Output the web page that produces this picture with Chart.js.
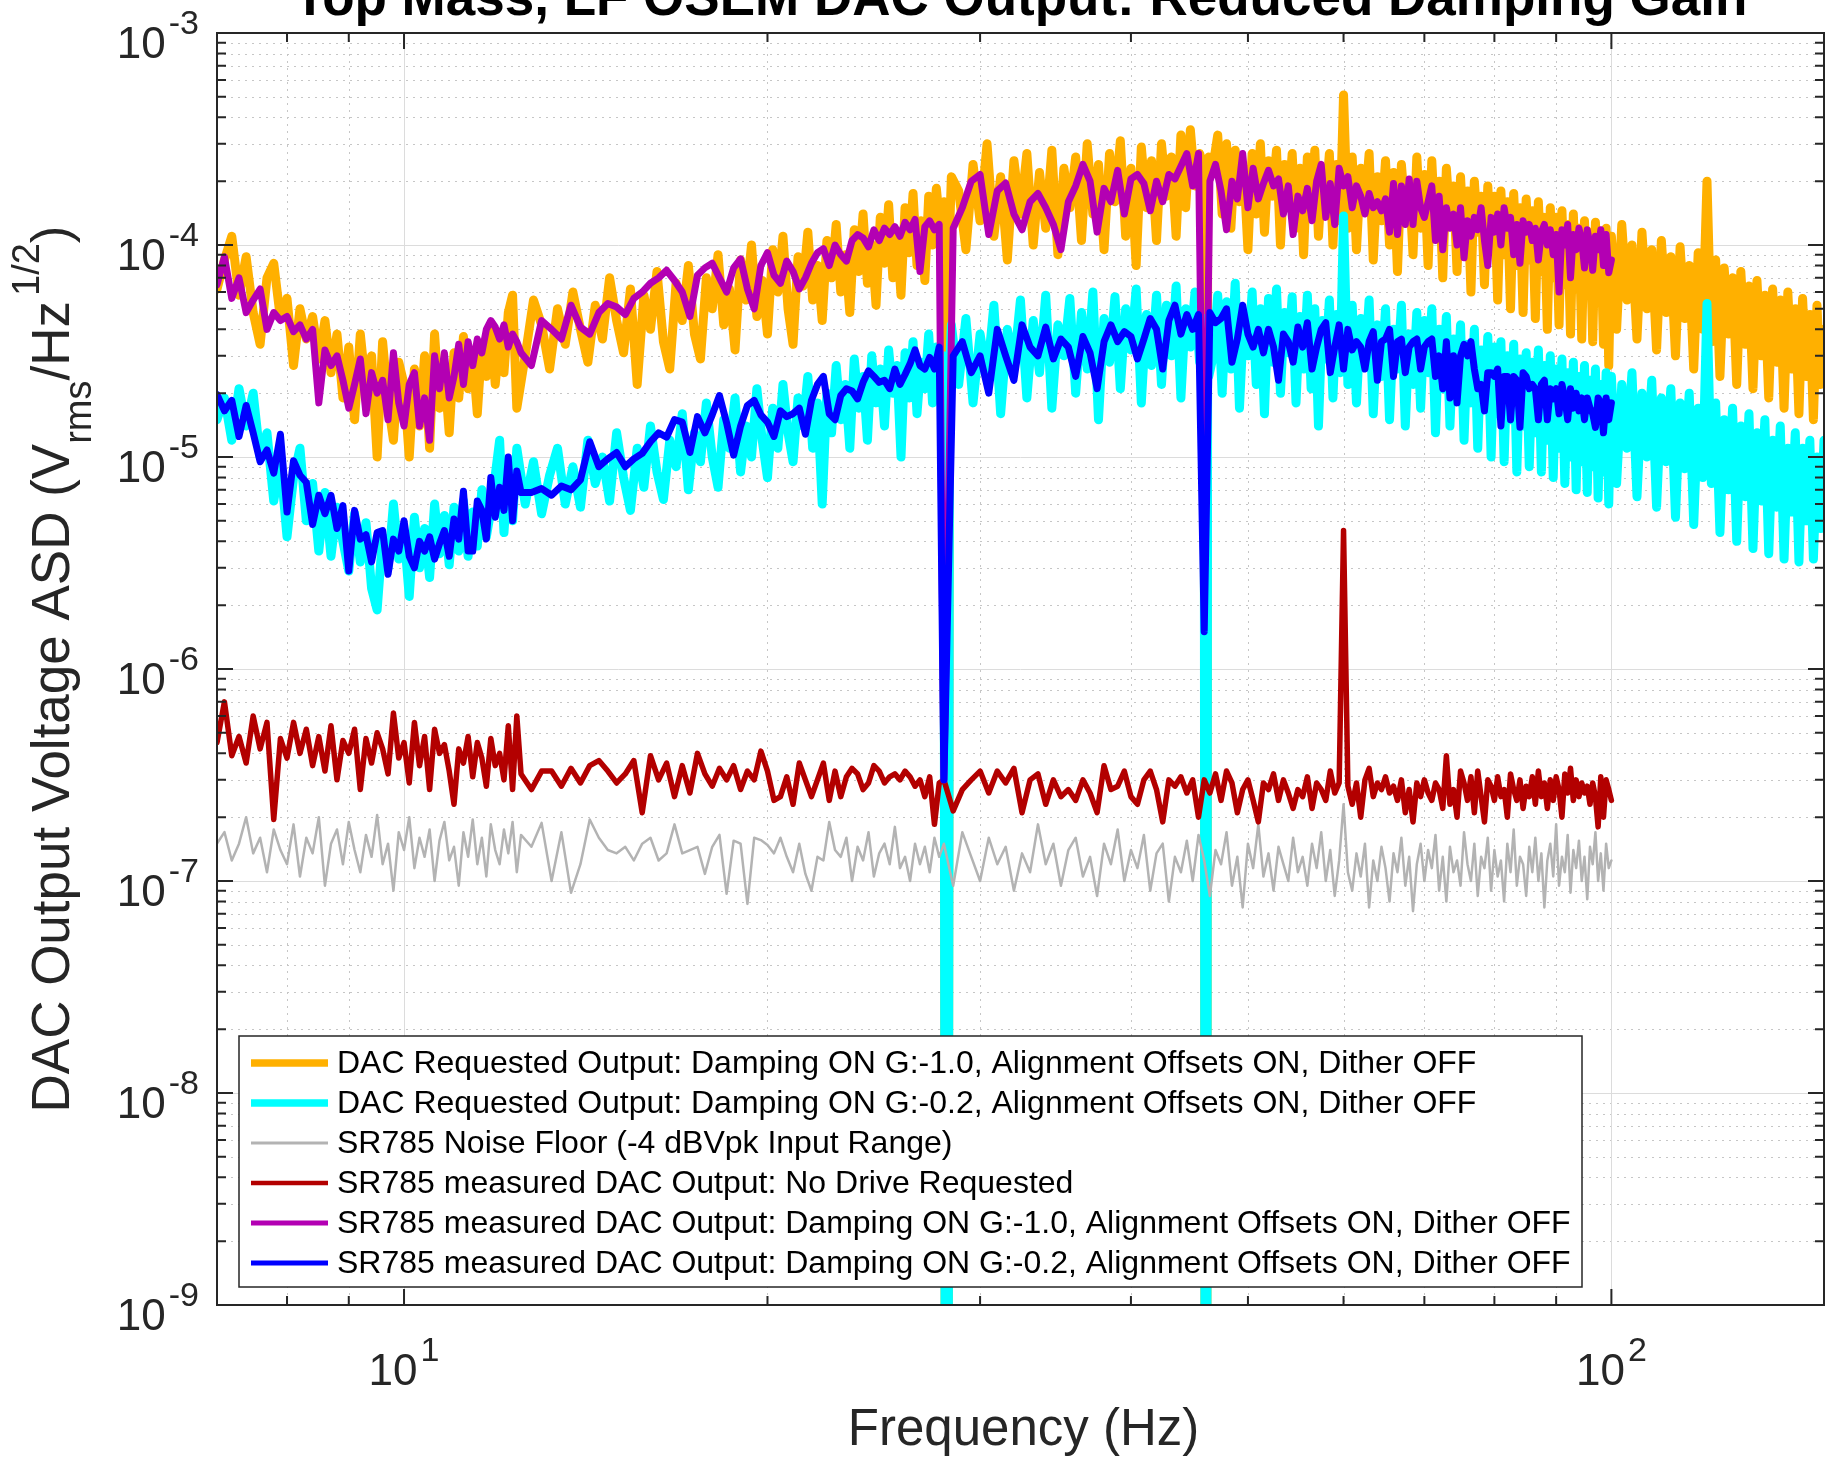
<!DOCTYPE html>
<html>
<head>
<meta charset="utf-8">
<title>Top Mass, LF OSEM DAC Output: Reduced Damping Gain</title>
<script src="https://cdn.jsdelivr.net/npm/chart.js@4.4.1/dist/chart.umd.min.js"></script>
<style>
  html, body { margin: 0; padding: 0; background: #fff; }
  #wrap { width: 1830px; height: 1460px; position: relative; }
</style>
</head>
<body>
<div id="wrap"><canvas id="asd"></canvas></div>
<script>
// DAC output ASD comparison: requested (from front end) vs measured on SR785.
// Values read off the original MATLAB figure; DAC-requested traces on a
// fine grid (dacFreq), SR785 traces on the analyser's span grid (srFreq).

// ── DAC requested output grid (Hz) ─────────────────────────────────────
const dacFreq = [
  7.0, 7.1, 7.2, 7.3, 7.4, 7.5, 7.6, 7.7, 7.8, 7.9,
  8.0, 8.1, 8.2, 8.3, 8.4, 8.5, 8.6, 8.7, 8.8, 8.9,
  9.0, 9.1, 9.2, 9.3, 9.4, 9.5, 9.6, 9.7, 9.8, 9.9,
  10.0, 10.1, 10.2, 10.3, 10.4, 10.5, 10.6, 10.7, 10.8, 10.9,
  11.0, 11.1, 11.2, 11.3, 11.4, 11.5, 11.6, 11.7, 11.8, 11.9,
  12.0, 12.1, 12.2, 12.3, 12.4,
  12.6, 12.8,
  13.0, 13.2, 13.4, 13.6, 13.8, 14.0, 14.2, 14.4, 14.6, 14.8,
  15.0, 15.2, 15.4, 15.6, 15.8, 16.0, 16.2, 16.4, 16.6, 16.8,
  17.0, 17.2, 17.4, 17.6, 17.8, 18.0, 18.2, 18.4, 18.6, 18.8,
  19.0, 19.2, 19.4, 19.6, 19.8, 20.0, 20.2, 20.4, 20.6, 20.8,
  21.0, 21.2, 21.4, 21.6, 21.8, 22.0, 22.2, 22.4, 22.6, 22.8,
  23.0, 23.2, 23.4, 23.6, 23.8, 24.0, 24.2, 24.4, 24.6, 24.8,
  25.0, 25.2, 25.4, 25.6, 25.8, 26.0, 26.2, 26.4, 26.6, 26.8,
  27.0, 27.2, 27.4, 27.6, 27.8,
  28.0, 28.1, 28.2, 28.3, 28.4,
  28.8, 29.2, 29.6, 30.0, 30.4, 30.8, 31.2, 31.6, 32.0, 32.4,
  32.8, 33.2, 33.6, 34.0, 34.4, 34.8, 35.2, 35.6, 36.0, 36.4,
  36.8, 37.2, 37.6, 38.0, 38.4, 38.8, 39.2, 39.6, 40.0, 40.4,
  40.8, 41.2, 41.6, 42.0, 42.4, 42.8, 43.2, 43.6, 44.0, 44.4,
  44.8, 45.2, 45.6, 46.0, 46.1, 46.2, 46.3, 46.4, 46.8, 47.2, 47.6, 48.0, 48.4,
  48.8, 49.2, 49.6, 50.0, 50.4, 50.8, 51.2, 51.6, 52.0, 52.4,
  52.8, 53.2, 53.6, 54.0, 54.4, 54.8, 55.2, 55.6, 56.0, 56.4,
  56.8, 57.2, 57.6, 58.0, 58.4, 58.8, 59.2, 59.6,
  60, 60.5, 61, 61.5, 62, 62.5, 63, 63.5, 64, 64.5,
  65, 65.5, 66, 66.5, 67, 67.5, 68, 68.5, 69, 69.5,
  70, 70.5, 71, 71.5, 72, 72.5, 73, 73.5, 74, 74.5,
  75, 75.5, 76, 76.5, 77, 77.5, 78, 78.5, 79, 79.5,
  80, 80.5, 81, 81.5, 82, 82.5, 83, 83.5, 84, 84.5,
  85, 85.5, 86, 86.5, 87, 87.5, 88, 88.5, 89, 89.5,
  90, 90.5, 91, 91.5, 92, 92.5, 93, 93.5, 94, 94.5,
  95, 95.5, 96, 96.5, 97, 97.5, 98, 98.5, 99, 99.5,
  100, 101, 102, 103, 104, 105, 106, 107, 108, 109,
  110, 111, 112, 113, 114, 115, 116, 117, 118, 119,
  120, 121, 122, 123, 124, 125, 126, 127, 128, 129,
  130, 131, 132, 133, 134, 135, 136, 137, 138, 139,
  140, 141, 142, 143, 144, 145, 146, 147, 148, 149,
  150,
];

// DAC requested, damping G:-1.0 (uV/rtHz)
const dacG10 = [
  62, 85, 110, 58, 88, 48, 34, 70, 82, 45,
  56, 27, 50, 36, 46, 29, 44, 25, 38, 19,
  33, 15, 38, 21, 30, 10, 35, 18, 12, 28,
  22, 10, 26, 14, 30, 11, 38, 17, 26, 13,
  31, 19, 37, 21, 30, 16, 34, 24, 42, 22,
  36, 25, 48, 58, 17,
  30, 55,
  42, 26, 50, 34, 60, 40, 28, 52, 36, 70,
  44, 31, 62, 22, 58, 40, 75, 35, 26, 66,
  44, 80, 38, 29, 70, 50, 90, 42, 62, 32,
  85, 55, 100, 46, 68, 38, 95, 60, 110, 50,
  34, 88, 64, 115, 55, 80, 44, 105, 70, 125,
  60, 90, 48, 118, 75, 140, 66, 100, 52, 135,
  82, 155, 70, 110, 58, 150, 92, 175, 80, 130,
  68, 170, 100, 185, 120,
  160, 1e-6, 1e-6, 110, 210,
  180, 95, 240, 130, 300, 110, 210, 85, 250, 140,
  270, 100, 220, 120, 280, 90, 230, 150, 260, 105,
  300, 140, 240, 95, 270, 160, 310, 110, 230, 80,
  290, 150, 250, 105, 300, 170, 260, 110, 330, 150,
  350, 190, 270, 230, 1e-6, 1e-6, 150, 260, 240, 330, 140, 300, 120,
  280, 160, 230, 95, 270, 140, 300, 115, 250, 170,
  280, 100, 240, 150, 270, 120, 230, 90, 260, 140,
  280, 110, 220, 160, 270, 100, 240, 130,
  510, 120, 260, 95, 230, 150, 270, 85, 210, 130,
  250, 100, 220, 75, 240, 140, 200, 90, 260, 120,
  215, 80, 250, 110, 200, 70, 230, 130, 190, 75,
  210, 100, 180, 60, 200, 115, 170, 65, 190, 95,
  170, 55, 180, 90, 160, 50, 175, 80, 150, 48,
  165, 85, 145, 45, 160, 75, 135, 40, 150, 70,
  135, 42, 145, 65, 125, 38, 140, 62, 120, 36,
  130, 58, 115, 35, 128, 55, 110, 34, 120, 27,
  110, 40, 125, 55, 100, 36, 115, 50, 95, 32,
  105, 48, 88, 30, 98, 45, 80, 26, 92, 40,
  200, 35, 85, 24, 78, 38, 70, 22, 75, 34,
  64, 21, 68, 30, 58, 19, 62, 28, 55, 17,
  60, 26, 50, 16, 56, 24, 47, 15, 52, 22,
  40,
];

// DAC requested, damping G:-0.2 (uV/rtHz)
const dacG02 = [
  15, 19, 12, 21, 14, 20, 10, 13, 6.2, 9.5,
  4.2, 8.0, 11, 5.0, 7.5, 3.6, 6.8, 3.4, 5.8, 4.0,
  2.9, 5.4, 3.2, 4.9, 2.4, 1.9, 4.2, 3.0, 6.0, 3.3,
  4.4, 2.2, 5.2, 3.0, 4.6, 2.7, 6.0, 3.5, 5.3, 3.1,
  5.8, 3.6, 6.2, 3.4, 5.5, 3.8, 7.0, 4.2, 5.6, 8.2,
  12, 4.4, 9.0, 5.0, 11,
  6.0, 9.5,
  5.4, 8.2, 11, 6.0, 9.0, 5.8, 12, 7.5, 10, 6.2,
  13, 8.0, 5.6, 11, 7.2, 14, 8.5, 6.3, 12, 9.0,
  16, 7.0, 13, 9.5, 18, 10, 7.2, 15, 11, 19,
  8.5, 14, 10, 21, 12, 8.0, 17, 11, 22, 13,
  9.5, 19, 14, 24, 11, 18, 6.0, 20, 13, 27,
  15, 22, 11, 29, 17, 24, 12, 30, 18, 26,
  14, 32, 20, 27, 10, 31, 19, 35, 16, 28,
  21, 38, 18, 33, 24,
  30, 1e-6, 1e-6, 26, 42,
  22, 45, 18, 38, 24, 52, 16, 40, 27, 55,
  19, 44, 25, 58, 17, 42, 30, 56, 20, 48,
  26, 60, 15, 45, 28, 57, 21, 50, 32, 62,
  18, 47, 27, 58, 22, 52, 30, 64, 19, 50,
  33, 60, 28, 45, 1e-6, 1e-6, 35, 24, 30, 58, 20, 54, 26,
  66, 17, 45, 30, 60, 22, 50, 16, 56, 28,
  62, 20, 48, 31, 57, 18, 46, 26, 58, 21,
  50, 14, 44, 29, 55, 19, 47, 25,
  137, 22, 52, 18, 45, 27, 55, 16, 42, 24,
  50, 15, 40, 26, 52, 14, 38, 22, 48, 17,
  44, 25, 50, 13, 40, 21, 46, 14, 36, 20,
  42, 12, 34, 18, 40, 11, 32, 17, 37, 10,
  33, 16, 35, 9.5, 30, 15, 34, 8.5, 29, 14,
  31, 9.0, 28, 13, 32, 8.5, 27, 12, 30, 8.0,
  26, 11, 29, 7.5, 25, 10, 28, 7.0, 24, 9.5,
  27, 6.8, 23, 9.0, 26, 6.4, 22, 8.5, 25, 6.0,
  24, 7.5, 22, 11, 25, 6.5, 20, 10, 23, 5.8,
  19, 9.5, 21, 5.2, 18, 8.8, 20, 4.8, 17, 8.0,
  53, 7.5, 18, 4.4, 15, 7.0, 17, 4.0, 14, 6.5,
  16, 3.7, 13, 6.2, 15, 3.5, 12, 5.8, 14, 3.3,
  11, 5.5, 13, 3.2, 11, 5.0, 12, 3.3, 10, 4.6,
  12,
];

// ── SR785 measurement grid (Hz) ────────────────────────────────────────
const srFreq = [
  7.0, 7.1, 7.2, 7.3, 7.4, 7.5, 7.6, 7.7, 7.8, 7.9,
  8.0, 8.1, 8.2, 8.3, 8.4, 8.5, 8.6, 8.7, 8.8, 8.9,
  9.0, 9.1, 9.2, 9.3, 9.4, 9.5, 9.6, 9.7, 9.8, 9.9,
  10.0, 10.1, 10.2, 10.3, 10.4, 10.5, 10.6, 10.7, 10.8, 10.9,
  11.0, 11.1, 11.2, 11.3, 11.4, 11.5, 11.6, 11.7, 11.8, 11.9,
  12.0, 12.1, 12.2, 12.3, 12.4, 12.5,
  12.75,
  13, 13.25, 13.5, 13.75, 14, 14.25, 14.5, 14.75,
  15, 15.25, 15.5, 15.75, 16, 16.25, 16.5, 16.75,
  17, 17.25, 17.5, 17.75, 18, 18.25, 18.5, 18.75,
  19, 19.25, 19.5, 19.75, 20, 20.25, 20.5, 20.75,
  21, 21.25, 21.5, 21.75, 22, 22.25, 22.5, 22.75,
  23, 23.25, 23.5, 23.75, 24, 24.25, 24.5, 24.75,
  25, 25.25, 25.5, 25.75, 26, 26.25, 26.5, 26.75,
  27, 27.25, 27.5, 27.75,
  28, 28.5, 29, 29.5, 30, 30.5, 31, 31.5, 32, 32.5,
  33, 33.5, 34, 34.5, 35, 35.5, 36, 36.5, 37, 37.5,
  38, 38.5, 39, 39.5, 40, 40.5, 41, 41.5, 42, 42.5,
  43, 43.5, 44, 44.5, 45, 45.5, 46, 46.5, 47, 47.5,
  48, 48.5, 49, 49.5, 50, 50.5, 51, 51.5, 52, 52.5,
  53, 53.5, 54, 54.5, 55, 55.5, 56, 56.5, 57, 57.5,
  58, 58.5, 59, 59.5, 60, 60.5, 61, 61.5, 62, 62.5,
  63, 63.5, 64, 64.5, 65, 65.5, 66, 66.5, 67, 67.5,
  68, 68.5, 69, 69.5, 70, 70.5, 71, 71.5, 72, 72.5,
  73, 73.5, 74, 74.5, 75, 75.5, 76, 76.5, 77, 77.5,
  78, 78.5, 79, 79.5, 80, 80.5, 81, 81.5, 82, 82.5,
  83, 83.5, 84, 84.5, 85, 85.5, 86, 86.5, 87, 87.5,
  88, 88.5, 89, 89.5, 90, 90.5, 91, 91.5, 92, 92.5,
  93, 93.5, 94, 94.5, 95, 95.5, 96, 96.5, 97, 97.5,
  98, 98.5, 99, 99.5, 100,
];

// SR785 noise floor, -4 dBVpk range (nV/rtHz)
const srFloor = [
  150, 170, 125, 150, 200, 135, 160, 110, 175, 140,
  120, 185, 105, 160, 135, 200, 95, 150, 175, 120,
  190, 140, 110, 165, 130, 205, 120, 150, 90, 170,
  140, 200, 115, 160, 130, 175, 100, 155, 190, 125,
  145, 95, 170, 130, 195, 120, 160, 105, 185, 140,
  120, 175, 135, 190, 110, 165,
  145,
  188, 100, 170, 88, 120, 195, 160, 140,
  135, 145, 125, 150, 160, 125, 135, 185,
  135, 140, 145, 108, 145, 165, 87, 155,
  150, 78, 160, 156, 148, 135, 160, 130,
  110, 150, 108, 90, 130, 125, 190, 140,
  130, 160, 100, 145, 125, 170, 105, 135,
  150, 120, 180, 115, 130, 100, 150, 120,
  145, 110, 160, 130,
  150, 95, 170, 130, 100, 160, 120, 145, 90, 135,
  110, 185, 120, 150, 95, 140, 160, 105, 130, 85,
  150, 120, 175, 100, 140, 115, 165, 90, 135, 150,
  80, 130, 110, 155, 100, 165, 125, 85, 140, 120,
  170, 95, 130, 75, 150, 115, 185, 105, 135, 90,
  145, 120, 100, 160, 110, 130, 95, 150, 115, 170,
  100, 140, 85, 125, 230, 110, 90, 135, 105, 150,
  75, 125, 100, 145, 115, 80, 135, 110, 160, 95,
  130, 72, 120, 150, 100, 140, 115, 165, 90, 130,
  80, 145, 110, 125, 95, 170, 120, 100, 150, 85,
  130, 115, 160, 90, 140, 105, 125, 80, 150, 110,
  175, 95, 130, 120, 85, 145, 110, 160, 100, 135,
  75, 125, 150, 105, 185, 95, 130, 110, 165, 88,
  140, 115, 155, 100, 130, 82, 145, 120, 170, 100,
  135, 90, 150, 115, 125,
];

// SR785 measured, no drive requested (nV/rtHz)
const srNoDrive = [
  450, 700, 390, 480, 360, 600, 420, 560, 195, 470,
  380, 560, 400, 520, 350, 480, 330, 540, 300, 460,
  400, 520, 270, 470, 360, 500, 420, 320, 620, 380,
  450, 290, 560, 350, 480, 270, 520, 400, 440, 330,
  230, 420, 360, 480, 310, 450, 380, 280, 470, 350,
  400, 300, 540, 270, 600, 320,
  270,
  330, 330, 280, 340, 290, 350, 370, 330,
  290, 320, 370, 210, 390, 300, 360, 250,
  350, 260, 400, 320, 280, 340, 300, 350,
  270, 330, 300, 410, 330, 240, 250, 310,
  230, 360, 300, 250, 300, 360, 240, 330,
  250, 310, 340, 320, 270, 290, 350, 330,
  290, 310, 320, 300, 330, 310, 280, 300,
  250, 310, 185, 290,
  300, 214, 270, 300, 330, 260, 330, 290, 340, 210,
  300, 320, 230, 300, 250, 270, 240, 300, 260, 210,
  350, 270, 280, 330, 250, 230, 300, 330, 270, 190,
  300, 280, 310, 260, 300, 200, 300, 260, 320, 240,
  330, 290, 210, 270, 300, 240, 190, 290, 270, 320,
  240, 300, 260, 220, 270, 250, 310, 220, 290, 270,
  240, 330, 260, 290, 4500, 280, 230, 290, 200, 300,
  340, 250, 290, 270, 310, 260, 280, 240, 300, 210,
  270, 190, 290, 250, 300, 260, 240, 290, 270, 220,
  390, 230, 270, 200, 330, 290, 240, 310, 210, 330,
  250, 190, 300, 280, 240, 310, 250, 270, 200, 320,
  270, 240, 300, 220, 280, 250, 310, 230, 330, 250,
  290, 220, 300, 240, 310, 270, 200, 320, 260, 340,
  240, 300, 250, 290, 260, 280, 230, 290, 250, 180,
  310, 200, 300, 270, 240,
];

// SR785 measured, damping G:-1.0 (uV/rtHz)
const srG10 = [
  65, 88, 56, 70, 48, 55, 62, 40, 48, 44,
  46, 39, 42, 36, 40, 18, 32, 27, 30, 23,
  17, 22, 29, 16, 25, 20, 23, 15, 31, 18,
  14, 22, 25, 14, 19, 12, 30, 21, 31, 19,
  24, 34, 22, 35, 27, 36, 31, 40, 44, 41,
  36, 42, 33, 38, 35, 31,
  27,
  44, 40, 36, 52, 41, 38, 48, 53,
  51, 47, 56, 60, 66, 70, 76, 68,
  60, 46, 72, 78, 82, 70, 60, 78,
  86, 62, 50, 80, 92, 72, 66, 84,
  75, 62, 70, 82, 92, 96, 80, 100,
  90, 84, 105, 112, 108, 98, 118, 105,
  120, 112, 122, 110, 128, 118, 132, 75,
  122, 130, 118, 125,
  0.3, 120, 150, 200, 215, 112, 180, 196, 140, 118,
  160, 175, 150, 125, 95, 160, 190, 240, 200, 115,
  185, 160, 225, 140, 205, 215, 195, 145, 200, 160,
  215, 205, 235, 270, 190, 270, 2.5, 200, 240, 180,
  118, 200, 165, 270, 150, 230, 165, 195, 225, 190,
  205, 140, 190, 112, 170, 145, 185, 130, 200, 240,
  135, 195, 125, 230, 190, 210, 150, 190, 170, 140,
  175, 150, 160, 145, 165, 115, 195, 112, 190, 125,
  205, 125, 200, 150, 135, 160, 190, 105, 170, 95,
  150, 120, 140, 100, 150, 87, 130, 110, 135, 118,
  150, 105, 80, 135, 115, 140, 100, 150, 120, 135,
  90, 125, 82, 130, 115, 125, 105, 120, 85, 115,
  125, 100, 118, 90, 112, 60, 118, 100, 125, 70,
  112, 95, 120, 105, 78, 118, 100, 76, 110, 95,
  118, 80, 112, 74, 85,
];

// SR785 measured, damping G:-0.2 (uV/rtHz)
const srG02 = [
  19.7, 16.5, 18.5, 12.5, 17.5, 13.0, 9.5, 10.8, 8.4, 12.8,
  5.5, 9.6, 8.2, 7.6, 4.8, 6.6, 5.4, 6.6, 4.6, 5.9,
  2.9, 5.6, 4.1, 4.3, 3.2, 4.4, 4.5, 2.8, 4.1, 3.6,
  5.0, 3.4, 3.0, 4.0, 3.6, 4.2, 3.3, 3.9, 4.5, 3.4,
  5.1, 4.1, 6.9, 3.6, 3.6, 6.2, 5.6, 4.1, 8.0, 5.2,
  7.2, 5.6, 10.0, 5.0, 8.6, 6.8,
  6.8,
  7.1, 6.6, 7.3, 7.0, 7.8, 11.8, 9.0, 9.8,
  10.5, 9.0, 9.8, 10.4, 11.8, 13.0, 12.4, 15.0,
  14.6, 10.5, 15.5, 13.0, 15.8, 19.5, 14.5, 10.2,
  14.0, 17.5, 18.5, 15.8, 14.6, 12.5, 16.5, 15.5,
  16.0, 17.0, 12.8, 18.5, 22.0, 24.0, 16.0, 15.0,
  19.5, 21.0, 20.5, 18.8, 22.5, 25.5, 24.0, 22.5,
  23.0, 21.0, 26.0, 22.0, 24.5, 27.5, 32.0, 27.0,
  26.0, 29.5, 26.0, 33.0,
  0.3, 30, 35, 25, 30, 20, 40, 30, 23, 42,
  33, 30, 41, 29, 36, 33, 24, 37, 31, 21,
  35, 42, 35, 39, 37, 29, 36, 45, 40, 26,
  44, 52, 38, 47, 40, 47, 1.5, 48, 43, 45,
  50, 28, 36, 52, 38, 33, 40, 31, 40, 33,
  23, 38, 35, 28, 41, 33, 43, 26, 33, 40,
  43, 25, 33, 42, 26, 40, 32, 35, 33, 26,
  35, 39, 23, 35, 36, 40, 24, 35, 36, 25,
  33, 35, 36, 26, 33, 35, 36, 24, 30, 21,
  35, 19, 30, 18, 30, 34, 30, 35, 26, 21,
  22, 16.5, 25, 25, 24, 26, 14, 24, 24, 15,
  24, 23, 13.8, 25, 24, 21, 22, 21, 15, 22,
  23, 15, 21, 18.8, 21, 16, 22, 19, 15, 21,
  17, 20, 16.5, 19, 15, 19, 17, 16, 13.8, 19,
  18, 13, 19, 15, 18,
];

const UV = 1e-6;   // arrays above are in uV/rtHz or nV/rtHz
const NV = 1e-9;

// axis ticks
const xMajor = [10, 100];
const xMajorExp = ['1', '2'];
const xMinor = [8, 9, 20, 30, 40, 50, 60, 70, 80, 90];
const yDecades = [1e-9, 1e-8, 1e-7, 1e-6, 1e-5, 1e-4, 1e-3];
const yDecadeExp = ['-9', '-8', '-7', '-6', '-5', '-4', '-3'];

const TITLE = 'Top Mass, LF OSEM DAC Output: Reduced Damping Gain';
const FONT = '"Liberation Sans", Arial, Helvetica, sans-serif';
const INK = '#262626';

function toPoints(freq, vals, unit) {
  return freq.map((f, i) => ({ x: f, y: vals[i] * unit }));
}

function trace(label, pts, color, width, legendWidth, order) {
  return {
    label, data: pts, borderColor: color, backgroundColor: color,
    borderWidth: width, legendWidth, pointRadius: 0, fill: false, tension: 0,
    borderJoinStyle: 'round', borderCapStyle: 'round', clip: 0, order,
  };
}

// "10" with a raised exponent, MATLAB tick style
function drawPow(ctx, exp, x, y, align) {
  ctx.font = `44px ${FONT}`;
  const wb = ctx.measureText('10').width;
  ctx.font = `34px ${FONT}`;
  const we = ctx.measureText(exp).width;
  const total = wb + 3 + we;
  const x0 = align === 'right' ? x - total : x - total / 2;
  ctx.font = `44px ${FONT}`;
  ctx.fillText('10', x0, y);
  ctx.font = `34px ${FONT}`;
  ctx.fillText(exp, x0 + wb + 3, y - 24);
}

// run of text pieces with sub/superscripts, centred on (cx, cy)
function drawRich(ctx, parts, cx, cy, rotate) {
  ctx.save();
  ctx.translate(cx, cy);
  if (rotate) ctx.rotate(-Math.PI / 2);
  let total = 0;
  parts.forEach(p => {
    ctx.font = `${p.size}px ${FONT}`;
    p.w = ctx.measureText(p.text).width;
    total += p.w + (p.gap || 0);
  });
  let x = -total / 2;
  parts.forEach(p => {
    x += p.gap || 0;
    ctx.font = `${p.size}px ${FONT}`;
    ctx.fillText(p.text, x, p.dy || 0);
    x += p.w;
  });
  ctx.restore();
}

// ── grid, box, ticks, labels and legend drawn MATLAB-style ─────────────
const matlabAxes = {
  id: 'matlabAxes',
  beforeDatasetsDraw(chart) {
    const { ctx, chartArea: a, scales: { x, y } } = chart;
    ctx.save();
    ctx.lineWidth = 1;
    // minor grid, dotted
    ctx.strokeStyle = '#c6c6c6';
    ctx.setLineDash([2, 5]);
    xMinor.forEach(v => {
      const px = Math.round(x.getPixelForValue(v)) + 0.5;
      ctx.beginPath(); ctx.moveTo(px, a.top); ctx.lineTo(px, a.bottom); ctx.stroke();
    });
    yDecades.slice(0, -1).forEach(d => {
      for (let m = 2; m <= 9; m++) {
        const py = Math.round(y.getPixelForValue(d * m)) + 0.5;
        ctx.beginPath(); ctx.moveTo(a.left, py); ctx.lineTo(a.right, py); ctx.stroke();
      }
    });
    // major grid, solid
    ctx.setLineDash([]);
    ctx.strokeStyle = '#dcdcdc';
    xMajor.forEach(v => {
      const px = Math.round(x.getPixelForValue(v)) + 0.5;
      ctx.beginPath(); ctx.moveTo(px, a.top); ctx.lineTo(px, a.bottom); ctx.stroke();
    });
    yDecades.forEach(d => {
      const py = Math.round(y.getPixelForValue(d)) + 0.5;
      ctx.beginPath(); ctx.moveTo(a.left, py); ctx.lineTo(a.right, py); ctx.stroke();
    });
    ctx.restore();
  },
  afterDatasetsDraw(chart) {
    const { ctx, chartArea: a, scales: { x, y } } = chart;
    ctx.save();
    ctx.strokeStyle = INK;
    ctx.fillStyle = INK;

    // ticks on all four sides, pointing in
    ctx.lineWidth = 2;
    const xt = (v, len) => {
      const px = x.getPixelForValue(v);
      ctx.beginPath();
      ctx.moveTo(px, a.bottom); ctx.lineTo(px, a.bottom - len);
      ctx.moveTo(px, a.top); ctx.lineTo(px, a.top + len);
      ctx.stroke();
    };
    const yt = (v, len) => {
      const py = y.getPixelForValue(v);
      ctx.beginPath();
      ctx.moveTo(a.left, py); ctx.lineTo(a.left + len, py);
      ctx.moveTo(a.right, py); ctx.lineTo(a.right - len, py);
      ctx.stroke();
    };
    xMinor.forEach(v => xt(v, 9));
    xMajor.forEach(v => xt(v, 16));
    yDecades.forEach((d, i) => {
      yt(d, 16);
      if (i < yDecades.length - 1) for (let m = 2; m <= 9; m++) yt(d * m, 9);
    });

    // axes box
    ctx.strokeRect(a.left, a.top, a.right - a.left, a.bottom - a.top);

    // tick labels
    ctx.textAlign = 'left';
    ctx.textBaseline = 'alphabetic';
    yDecades.forEach((d, i) => drawPow(ctx, yDecadeExp[i], 199, y.getPixelForValue(d) + 25, 'right'));
    xMajor.forEach((v, i) => drawPow(ctx, xMajorExp[i], x.getPixelForValue(v), 1385, 'center'));

    // axis titles
    drawRich(ctx, [{ text: 'Frequency (Hz)', size: 51 }], (a.left + a.right) / 2 + 3, 1445, false);
    drawRich(ctx, [
      { text: 'DAC Output Voltage ASD (V', size: 53 },
      { text: 'rms', size: 38, dy: 22 },
      { text: '/Hz', size: 53 },
      { text: '1/2', size: 38, dy: -30, gap: 5 },
      { text: ')', size: 53 },
    ], 69, (a.top + a.bottom) / 2, true);

    // title (sits partly above the canvas, as in the source figure)
    ctx.fillStyle = '#000';
    ctx.font = `bold 53px ${FONT}`;
    ctx.textAlign = 'center';
    ctx.fillText(TITLE, (a.left + a.right) / 2, 15);

    // legend box
    const L = { x: 239, y: 1036, w: 1343, h: 251, row0: 1063, dy: 40 };
    ctx.fillStyle = '#fff';
    ctx.fillRect(L.x, L.y, L.w, L.h);
    ctx.lineWidth = 1.5;
    ctx.strokeStyle = INK;
    ctx.strokeRect(L.x, L.y, L.w, L.h);
    ctx.font = `32px ${FONT}`;
    ctx.textAlign = 'left';
    ctx.textBaseline = 'middle';
    chart.data.datasets.forEach((ds, i) => {
      const ry = L.row0 + i * L.dy;
      ctx.strokeStyle = ds.borderColor;
      ctx.lineWidth = ds.legendWidth;
      ctx.lineCap = 'butt';
      ctx.beginPath(); ctx.moveTo(251, ry); ctx.lineTo(328, ry); ctx.stroke();
      ctx.fillStyle = '#000';
      ctx.fillText(ds.label, 337, ry + 1);
    });
    ctx.restore();
  },
};

// ── chart ──────────────────────────────────────────────────────────────
new Chart(document.getElementById('asd'), {
  type: 'line',
  data: {
    datasets: [
      trace('DAC Requested Output: Damping ON G:-1.0, Alignment Offsets ON, Dither OFF',
            toPoints(dacFreq, dacG10, UV), '#ffb000', 9, 7.5, 6),
      trace('DAC Requested Output: Damping ON G:-0.2, Alignment Offsets ON, Dither OFF',
            toPoints(dacFreq, dacG02, UV), '#00ffff', 9, 7.5, 5),
      trace('SR785 Noise Floor (-4 dBVpk Input Range)',
            toPoints(srFreq, srFloor, NV), '#b3b3b3', 2.5, 3, 4),
      trace('SR785 measured DAC Output: No Drive Requested',
            toPoints(srFreq, srNoDrive, NV), '#b30000', 5.5, 4.5, 3),
      trace('SR785 measured DAC Output: Damping ON G:-1.0, Alignment Offsets ON, Dither OFF',
            toPoints(srFreq, srG10, UV), '#b300b3', 7, 5, 2),
      trace('SR785 measured DAC Output: Damping ON G:-0.2, Alignment Offsets ON, Dither OFF',
            toPoints(srFreq, srG02, UV), '#0000ff', 7, 5, 1),
    ],
  },
  options: {
    responsive: true,
    maintainAspectRatio: false,
    devicePixelRatio: 1,
    animation: false,
    events: [],
    layout: { padding: { left: 0, top: 33, right: 6, bottom: 0 } },
    plugins: { legend: { display: false }, tooltip: { enabled: false }, title: { display: false } },
    scales: {
      x: {
        type: 'logarithmic', min: 7, max: 150,
        ticks: { display: false }, grid: { display: false }, border: { display: false },
        afterFit: s => { s.height = 155; },
      },
      y: {
        type: 'logarithmic', min: 1e-9, max: 1e-3,
        ticks: { display: false }, grid: { display: false }, border: { display: false },
        afterFit: s => { s.width = 217; },
      },
    },
  },
  plugins: [matlabAxes],
});
</script>
</body>
</html>
